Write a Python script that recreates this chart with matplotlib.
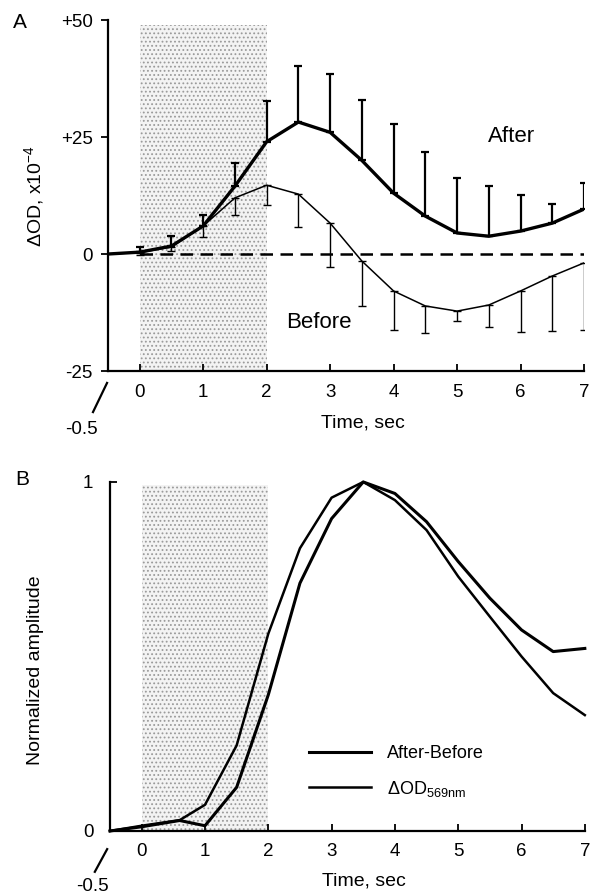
import matplotlib
matplotlib.use('Agg')
import matplotlib.pyplot as plt
import numpy as np

plt.rcParams['font.family'] = ['Liberation Sans', 'DejaVu Sans']
plt.rcParams['mathtext.fontset'] = 'custom'
plt.rcParams['mathtext.rm'] = 'Liberation Sans'
plt.rcParams['hatch.linewidth'] = 0.8

# panel A: dOD (x10^-4), mean with one-sided errors
t_a = [-0.5, 0, 0.5, 1, 1.5, 2, 2.5, 3, 3.5, 4, 4.5, 5, 5.5, 6, 6.5, 7]
after = [0, 0.4, 1.7, 6.0, 14.5, 24.0, 28.2, 26.0, 20.0, 13.0, 8.1, 4.5, 3.8, 4.9, 6.6, 9.6]
after_err = [0, 1.0, 2.1, 2.3, 4.9, 8.7, 12.0, 12.5, 13.0, 14.8, 13.7, 11.7, 10.7, 7.7, 4.1, 5.6]
before = [0, 0.3, 1.5, 6.0, 12.0, 14.7, 12.8, 6.6, -1.5, -7.9, -11.1, -12.2, -10.9, -7.9, -4.7, -1.9]
before_err = [0, 0.5, 0.8, 2.4, 3.7, 4.2, 7.0, 9.4, 9.6, 8.3, 5.8, 2.1, 4.7, 8.8, 11.8, 14.3]

# panel B: normalized amplitude
t_b = [-0.5, 0, 0.6, 1, 1.5, 2, 2.5, 3, 3.5, 4, 4.5, 5, 5.5, 6, 6.5, 7]
after_minus_before = [0, 0.012, 0.03, 0.015, 0.125, 0.39, 0.71, 0.895, 1.0, 0.967, 0.886, 0.772, 0.667, 0.576, 0.514, 0.523]
od569 = [0, 0.015, 0.031, 0.075, 0.245, 0.565, 0.81, 0.955, 1.0, 0.948, 0.862, 0.729, 0.614, 0.50, 0.395, 0.332]

stim = (0, 2)  # stimulus period, sec

fig = plt.figure(figsize=(5.95, 8.94), dpi=100)
ax_a = fig.add_axes([0.1815, 0.585, 0.8, 0.3926])
ax_b = fig.add_axes([0.1849, 0.0705, 0.798, 0.3904])


def stipple(ax, y0, y1):
    ax.fill_between(stim, y0, y1, facecolor='#f3f3f3', edgecolor='none', zorder=0)
    ax.fill_between(stim, y0, y1, facecolor='none', edgecolor='#9a9a9a',
                    hatch='....', linewidth=0, zorder=0)


def style_axes(ax):
    for s in ['top', 'right']:
        ax.spines[s].set_visible(False)
    for s in ['left', 'bottom']:
        ax.spines[s].set_linewidth(1.6)
    ax.set_xlim(-0.5, 7)
    ax.set_xticks(range(8))
    ax.tick_params(axis='x', direction='in', length=5, width=1.3, pad=9, labelsize=13.5)


def broken_origin(ax, p_top, p_bot, p_txt):
    ax.plot([p_top[0], p_bot[0]], [p_top[1], p_bot[1]], color='black', lw=1.6,
            transform=ax.transAxes, clip_on=False)
    ax.text(p_txt[0], p_txt[1], '-0.5', transform=ax.transAxes, ha='center',
            va='center', fontsize=13.5)


# ---- panel A ----
stipple(ax_a, -25, 49)
ax_a.plot([0, 7], [0, 0], color='black', lw=1.8, dashes=(5, 3), zorder=2)
ax_a.errorbar(t_a, after, yerr=[np.zeros(len(after_err)), after_err], color='black',
              lw=2.4, elinewidth=1.6, capsize=3, capthick=1.6, errorevery=(1, 1), zorder=4)
ax_a.errorbar(t_a, before, yerr=[before_err, np.zeros(len(before_err))], color='black',
              lw=1.1, elinewidth=1.0, capsize=3, capthick=1.0, errorevery=(1, 1), zorder=3)
style_axes(ax_a)
ax_a.set_ylim(-25, 50)
ax_a.set_yticks([50, 25, 0, -25])
ax_a.set_yticklabels(['+50', '+25', '0', '-25'])
ax_a.tick_params(axis='y', direction='out', length=5, width=1.3, pad=6, labelsize=13.5)
ax_a.text(5.86, 25.2, 'After', fontsize=16, ha='center', va='center')
ax_a.text(2.82, -14.7, 'Before', fontsize=16, ha='center', va='center')
ax_a.text(0.536, -0.148, 'Time, sec', transform=ax_a.transAxes, ha='center',
          va='center', fontsize=14)
ax_a.text(-0.153, 0.499, r'$\Delta$OD, x10$^{\mathregular{-4}}$', transform=ax_a.transAxes,
          ha='center', va='center', rotation=90, fontsize=14)
ax_a.text(-0.185, 0.994, 'A', transform=ax_a.transAxes, ha='center', va='center', fontsize=15)
broken_origin(ax_a, (-0.002, -0.034), (-0.0315, -0.117), (-0.055, -0.168))

# ---- panel B ----
stipple(ax_b, 0, 0.99)
ax_b.plot(t_b, after_minus_before, color='black', lw=2.2, label='After-Before',
          clip_on=False, zorder=4)
ax_b.plot(t_b, od569, color='black', lw=1.8, label=r'$\Delta$OD$_{\mathregular{569nm}}$',
          clip_on=False, zorder=3)
style_axes(ax_b)
ax_b.set_ylim(0, 1)
ax_b.set_yticks([0, 1])
ax_b.tick_params(axis='y', direction='in', length=5, width=1.3, pad=12, labelsize=13.5)
ax_b.legend(loc='upper left', bbox_to_anchor=(0.42, 0.245), frameon=False, fontsize=13,
            handlelength=3.4, handletextpad=0.9, labelspacing=0.9, borderpad=0,
            borderaxespad=0)
ax_b.text(0.535, -0.143, 'Time, sec', transform=ax_b.transAxes, ha='center',
          va='center', fontsize=14)
ax_b.text(-0.156, 0.461, 'Normalized amplitude', transform=ax_b.transAxes,
          ha='center', va='center', rotation=90, fontsize=14)
ax_b.text(-0.185, 1.006, 'B', transform=ax_b.transAxes, ha='center', va='center', fontsize=15)
broken_origin(ax_b, (-0.006, -0.052), (-0.032, -0.117), (-0.038, -0.158))

fig.savefig('out.png', dpi=100)
